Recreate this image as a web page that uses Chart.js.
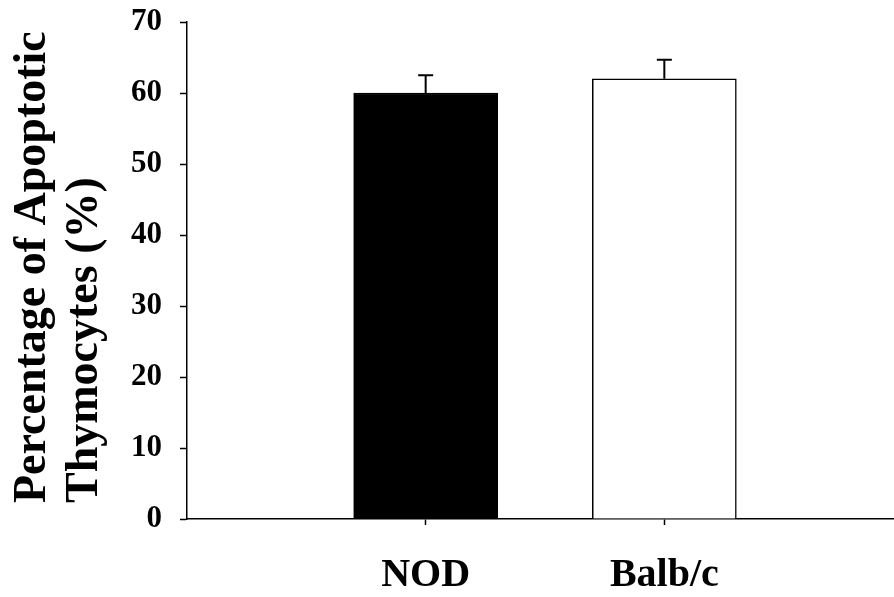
<!DOCTYPE html>
<html>
<head>
<meta charset="utf-8">
<script src="https://cdn.jsdelivr.net/npm/chart.js@4.4.1/dist/chart.umd.min.js"></script>
<style>
    html, body { margin: 0; padding: 0; background: #fff; overflow: hidden; }
    /* the x axis runs on past the right edge of the window */
    #wrap { width: 903px; height: 597px; }
</style>
</head>
<body>
<div id="wrap"><canvas id="chartApoptosis"></canvas></div>
<script>
// empty slots at both ends give the extra room on each side of the two bars
const strains = ["", "NOD", "Balb/c", ""];
const apoptoticPct = [null, 60, 62, null];
const apoptoticSem = [null, 2.5, 2.7, null];
const barFill = ["#000", "#000", "#fff", "#fff"];
const yTicks = [0, 10, 20, 30, 40, 50, 60, 70];
const yTitle = ["Percentage of Apoptotic", "Thymocytes (%)"];

const serif = '"Liberation Serif", "Times New Roman", serif';

// upper error bar only, drawn from the top of each bar
const errorBars = {
    id: "errorBars",
    afterDatasetsDraw(chart) {
        const ctx = chart.ctx;
        const meta = chart.getDatasetMeta(0);
        const yScale = chart.scales.y;
        ctx.save();
        ctx.strokeStyle = "#000";
        ctx.lineWidth = 2;
        meta.data.forEach(function (bar, i) {
            if (apoptoticPct[i] == null) return;
            const top = yScale.getPixelForValue(apoptoticPct[i]);
            const cap = yScale.getPixelForValue(apoptoticPct[i] + apoptoticSem[i]);
            ctx.beginPath();
            ctx.moveTo(bar.x, top);
            ctx.lineTo(bar.x, cap);
            ctx.moveTo(bar.x - 7.5, cap);
            ctx.lineTo(bar.x + 7.5, cap);
            ctx.stroke();
        });
        ctx.restore();
    }
};

// two-line y title, both lines starting at the same height
const yAxisTitle = {
    id: "yAxisTitle",
    afterDraw(chart) {
        const ctx = chart.ctx;
        ctx.save();
        ctx.font = "bold 46px " + serif;
        ctx.fillStyle = "#000";
        ctx.textAlign = "left";
        ctx.textBaseline = "alphabetic";
        ctx.translate(0, 503);
        ctx.rotate(-Math.PI / 2);
        ctx.fillText(yTitle[0], 0, 45);
        ctx.fillText(yTitle[1], 0, 97);
        ctx.restore();
    }
};

new Chart("chartApoptosis", {
    type: "bar",
    data: {
        labels: strains,
        datasets: [{
            data: apoptoticPct,
            backgroundColor: barFill,
            borderColor: "#000",
            borderWidth: 1.5,
            barThickness: 144
        }]
    },
    options: {
        responsive: true,
        maintainAspectRatio: false,
        animation: false,
        layout: {
            padding: { top: 22, right: 0, left: 0, bottom: 0 }
        },
        plugins: {
            legend: { display: false },
            tooltip: { enabled: false }
        },
        scales: {
            x: {
                offset: false,
                afterFit: function (scale) {
                    scale.height = 78;
                    scale.paddingLeft = 0;
                    scale.paddingRight = 0;
                },
                border: { display: true, color: "#000", width: 1.5 },
                grid: {
                    offset: false,
                    drawOnChartArea: false,
                    tickLength: 6,
                    tickWidth: 1.5,
                    color: function (c) { return strains[c.index] ? "#000" : "rgba(0,0,0,0)"; }
                },
                ticks: {
                    color: "#000",
                    padding: 27,
                    font: { family: serif, size: 40, weight: "bold" }
                }
            },
            y: {
                min: 0,
                max: 70,
                afterFit: function (scale) {
                    scale.width = 187;
                    scale.paddingTop = 0;
                    scale.paddingBottom = 0;
                },
                afterBuildTicks: function (scale) {
                    scale.ticks = yTicks.map(v => ({ value: v }));
                },
                border: { display: true, color: "#000", width: 1.5 },
                grid: {
                    drawOnChartArea: false,
                    tickLength: 7,
                    tickWidth: 1.5,
                    color: "#000"
                },
                ticks: {
                    color: "#000",
                    padding: 18,
                    font: { family: serif, size: 31, weight: "bold" }
                }
            }
        }
    },
    plugins: [errorBars, yAxisTitle]
});
</script>
</body>
</html>
